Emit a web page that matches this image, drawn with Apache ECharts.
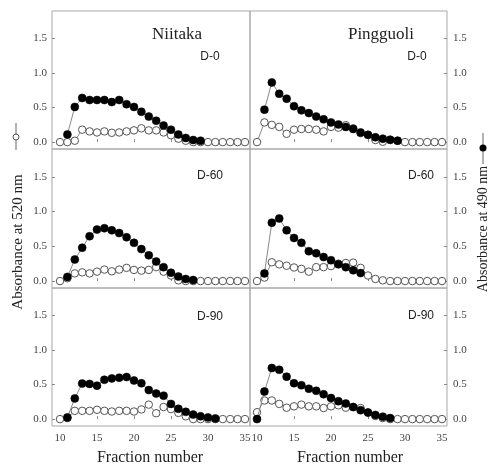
<!DOCTYPE html>
<html>
<head>
<meta charset="utf-8">
<script src="https://cdn.jsdelivr.net/npm/echarts@6/dist/echarts.min.js"></script>
<style>
  html, body { margin: 0; padding: 0; background: #fff; }
  #chart { width: 488px; height: 466px; }
</style>
</head>
<body>
<div id="chart"></div>
<script>
var fractions = [10, 11, 12, 13, 14, 15, 16, 17, 18, 19, 20, 21, 22, 23, 24, 25, 26, 27, 28, 29, 30, 31, 32, 33, 34, 35];
var xTicks = [10, 15, 20, 25, 30, 35];
var yTicks = [0, 0.5, 1.0, 1.5];

// filled circles = 490 nm, open circles = 520 nm
var niitakaD0Filled = [null, 0.11, 0.51, 0.64, 0.61, 0.61, 0.61, 0.58, 0.61, 0.55, 0.51, 0.44, 0.37, 0.31, 0.24, 0.18, 0.11, 0.06, 0.03, 0.02, null, null, null, null, null, null];
var niitakaD0Open = [0, 0, 0.02, 0.18, 0.155, 0.14, 0.155, 0.135, 0.14, 0.155, 0.17, 0.2, 0.17, 0.17, 0.14, 0.10, 0.05, 0.02, 0, 0, 0, 0, 0, 0, 0, 0];
var pingguoliD0Filled = [null, 0.47, 0.865, 0.70, 0.63, 0.52, 0.46, 0.42, 0.37, 0.33, 0.285, 0.255, 0.22, 0.19, 0.14, 0.105, 0.07, 0.05, 0.035, 0.02, null, null, null, null, null, null];
var pingguoliD0Open = [0, 0.285, 0.25, 0.22, 0.12, 0.18, 0.19, 0.19, 0.18, 0.155, 0.22, 0.21, 0.245, 0.20, 0.13, 0.105, 0.03, 0.005, 0.03, 0.02, 0, 0, 0, 0, 0, 0];

var niitakaD60Filled = [null, 0.06, 0.31, 0.48, 0.645, 0.74, 0.76, 0.73, 0.69, 0.63, 0.55, 0.46, 0.37, 0.28, 0.20, 0.12, 0.065, 0.03, 0.015, null, null, null, null, null, null, null];
var niitakaD60Open = [0, 0.04, 0.11, 0.125, 0.11, 0.135, 0.165, 0.14, 0.165, 0.19, 0.16, 0.15, 0.16, 0.20, 0.135, 0.08, 0.01, 0, 0, 0, 0, 0, 0, 0, 0, 0];
var pingguoliD60Filled = [null, 0.11, 0.84, 0.90, 0.73, 0.62, 0.55, 0.43, 0.40, 0.345, 0.30, 0.24, 0.20, 0.155, 0.115, null, null, null, null, null, null, null, null, null, null, null];
var pingguoliD60Open = [0, 0.05, 0.27, 0.24, 0.22, 0.195, 0.175, 0.135, 0.20, 0.20, 0.215, 0.25, 0.26, 0.265, 0.19, 0.08, 0.03, 0.01, 0, 0, 0, 0, 0, 0, 0, 0];

var niitakaD90Filled = [null, 0.025, 0.30, 0.515, 0.51, 0.485, 0.57, 0.59, 0.60, 0.61, 0.56, 0.52, 0.42, 0.37, 0.34, 0.22, 0.15, 0.105, 0.065, 0.04, 0.025, 0.01, null, null, null, null];
var niitakaD90Open = [0, 0.015, 0.12, 0.12, 0.12, 0.135, 0.12, 0.11, 0.12, 0.12, 0.11, 0.14, 0.21, 0.085, 0.175, 0.145, 0.09, 0.04, 0, 0, 0, 0, 0, 0, 0, 0];
var pingguoliD90Filled = [0, 0.40, 0.74, 0.715, 0.615, 0.52, 0.49, 0.44, 0.41, 0.36, 0.305, 0.26, 0.225, 0.175, 0.13, 0.095, 0.06, 0.035, 0.015, null, null, null, null, null, null, null];
var pingguoliD90Open = [0.10, 0.27, 0.27, 0.22, 0.165, 0.185, 0.21, 0.185, 0.185, 0.16, 0.185, 0.20, 0.165, 0.175, 0.16, 0.095, 0.045, 0.015, 0, 0, 0, 0, 0, 0, 0, 0];

var panels = [
  { filled: niitakaD0Filled, open: niitakaD0Open },
  { filled: pingguoliD0Filled, open: pingguoliD0Open },
  { filled: niitakaD60Filled, open: niitakaD60Open },
  { filled: pingguoliD60Filled, open: pingguoliD60Open },
  { filled: niitakaD90Filled, open: niitakaD90Open },
  { filled: pingguoliD90Filled, open: pingguoliD90Open }
];

function pairs(vals) {
  var out = [];
  for (var i = 0; i < fractions.length; i++) {
    if (vals[i] != null) out.push([fractions[i], vals[i]]);
  }
  return out;
}

var serif = 'Liberation Serif';
var rowTops = [11, 149, 288];
var rowHeights = [138, 139, 138];
var grids = [], xAxes = [], yAxes = [], series = [];

for (var p = 0; p < 6; p++) {
  var row = Math.floor(p / 2), col = p % 2;
  grids.push({
    left: col === 0 ? 52 : 250,
    width: col === 0 ? 198 : 197,
    top: rowTops[row],
    height: rowHeights[row],
    show: true,
    borderColor: '#a8a8a8',
    borderWidth: 1,
    containLabel: false
  });
  xAxes.push({
    type: 'value',
    gridIndex: p,
    min: col === 0 ? 8.92 : 9.05,
    max: 35.68,
    splitLine: { show: false },
    axisLine: { show: false },
    axisTick: { show: true, inside: true, length: 3, customValues: xTicks, lineStyle: { color: '#888' } },
    axisLabel: {
      show: row === 2,
      customValues: xTicks,
      margin: 7,
      fontFamily: serif,
      fontSize: 11,
      color: '#444'
    }
  });
  yAxes.push({
    type: 'value',
    gridIndex: p,
    position: col === 0 ? 'left' : 'right',
    min: -0.1,
    max: 1.9,
    splitLine: { show: false },
    axisLine: { show: false },
    axisTick: { show: true, inside: true, length: 3, customValues: yTicks, lineStyle: { color: '#888' } },
    axisLabel: {
      customValues: yTicks,
      margin: col === 0 ? 5 : 6,
      fontFamily: serif,
      fontSize: 11,
      color: '#444',
      formatter: function (v) { return v.toFixed(1); }
    }
  });
  series.push({
    type: 'line',
    xAxisIndex: p,
    yAxisIndex: p,
    data: pairs(panels[p].open),
    symbol: 'circle',
    symbolSize: 7.5,
    lineStyle: { color: '#888', width: 1 },
    itemStyle: { color: '#fff', borderColor: '#555', borderWidth: 1 },
    z: 2
  });
  series.push({
    type: 'line',
    xAxisIndex: p,
    yAxisIndex: p,
    data: pairs(panels[p].filled),
    symbol: 'circle',
    symbolSize: 8,
    lineStyle: { color: '#888', width: 1 },
    itemStyle: { color: '#000', borderColor: '#000', borderWidth: 0.5 },
    z: 3
  });
}

function label(text, x, y, family, size) {
  return {
    type: 'text', x: x, y: y, z: 10,
    style: { text: text, fontFamily: family, fontSize: size, fill: '#222', align: 'center', verticalAlign: 'middle' }
  };
}

var graphics = [
  label('Niitaka', 177, 35, serif, 17),
  label('Pingguoli', 381, 35, serif, 17),
  label('D-0', 210, 57, 'Liberation Sans', 12),
  label('D-0', 417, 57, 'Liberation Sans', 12),
  label('D-60', 210, 176, 'Liberation Sans', 12),
  label('D-60', 421, 176, 'Liberation Sans', 12),
  label('D-90', 210, 317, 'Liberation Sans', 12),
  label('D-90', 421, 316, 'Liberation Sans', 12),
  label('Fraction number', 150, 458, serif, 16),
  label('Fraction number', 350, 458, serif, 16),
  {
    type: 'text', x: 18, y: 242, rotation: Math.PI / 2, z: 10,
    style: { text: 'Absorbance at 520 nm', fontFamily: serif, fontSize: 15, fill: '#222', align: 'center', verticalAlign: 'middle' }
  },
  {
    type: 'text', x: 483, y: 229, rotation: Math.PI / 2, z: 10,
    style: { text: 'Absorbance at 490 nm', fontFamily: serif, fontSize: 14, fill: '#222', align: 'center', verticalAlign: 'middle' }
  },
  { type: 'line', shape: { x1: 16, y1: 123, x2: 16, y2: 150 }, style: { stroke: '#666', lineWidth: 1 } },
  { type: 'circle', shape: { cx: 16, cy: 137, r: 3 }, style: { fill: '#fff', stroke: '#555', lineWidth: 1 }, z: 11 },
  { type: 'line', shape: { x1: 483, y1: 133, x2: 483, y2: 164 }, style: { stroke: '#666', lineWidth: 1 } },
  { type: 'circle', shape: { cx: 483, cy: 148, r: 3.5 }, style: { fill: '#000' }, z: 11 }
];

var chart = echarts.init(document.getElementById('chart'));
chart.setOption({
  animation: false,
  grid: grids,
  xAxis: xAxes,
  yAxis: yAxes,
  series: series,
  graphic: graphics
});
</script>
</body>
</html>
